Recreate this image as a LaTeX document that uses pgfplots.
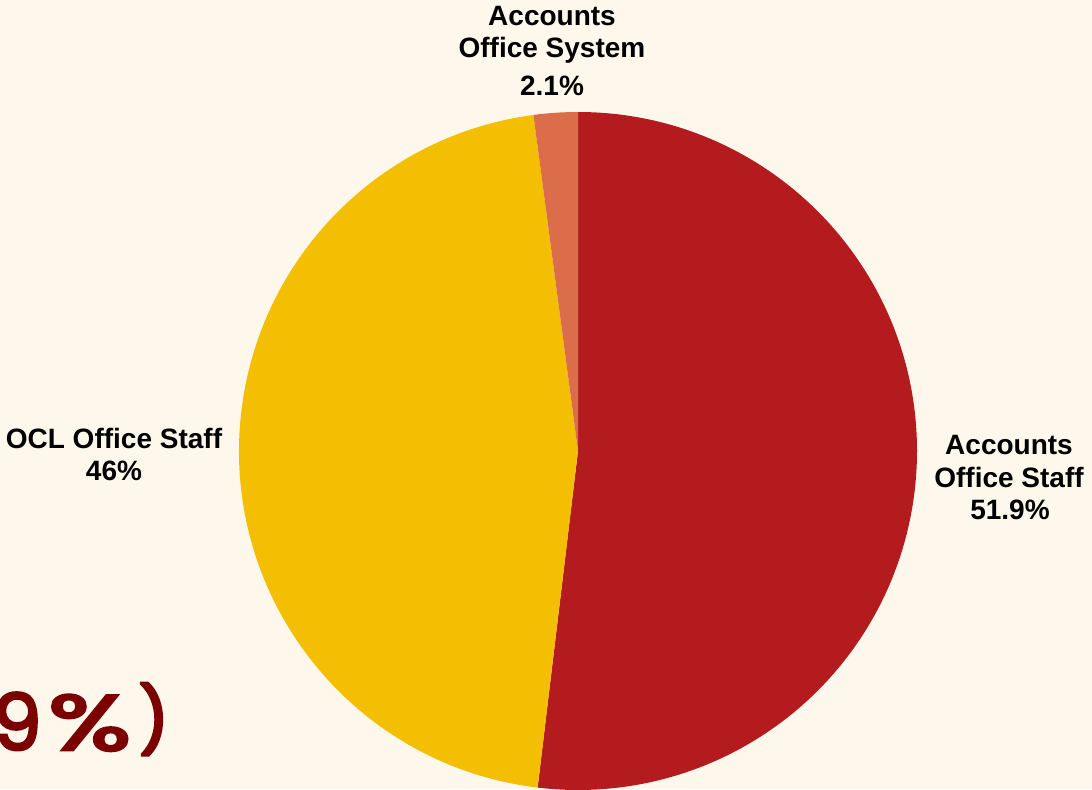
\documentclass[border=0pt]{standalone}
\usepackage{pgfplots}
\pgfplotsset{compat=1.18}
\usepackage{pgfplotstable}
\usepackage{fontspec}
\setmainfont{Liberation Sans}
\newfontfamily\pop{Poppins}[FakeBold=3.5]
\newfontfamily\popb{Poppins}[FakeBold=5]
\definecolor{bg}{HTML}{FEF8EC}
\definecolor{cred}{HTML}{B31B1F}
\definecolor{cyel}{HTML}{F4BF02}
\definecolor{cora}{HTML}{DB6D4A}
\definecolor{dred}{HTML}{7B0000}
\pgfplotstableread[col sep=comma]{
label,value
Accounts Office Staff,51.9
OCL Office Staff,46
Accounts Office System,2.1
}\piedata
\pgfplotstablegetelem{0}{value}\of\piedata \let\va\pgfplotsretval
\pgfplotstablegetelem{1}{value}\of\piedata \let\vb\pgfplotsretval
\pgfplotstablegetelem{2}{value}\of\piedata \let\vc\pgfplotsretval
\pgfmathsetmacro\aA{90-3.6*\va}
\pgfmathsetmacro\aB{\aA-3.6*\vb}
\pgfmathsetmacro\aC{\aB-3.6*\vc}
\begin{document}
\begin{tikzpicture}
\useasboundingbox (0,0) rectangle (546pt,394.5pt);
\clip (0,0) rectangle (546pt,394.5pt);
\fill[bg] (0,0) rectangle (546pt,394.5pt);
\begin{axis}[at={(0,0)},anchor=south west,scale only axis,
  width=546pt,height=394.5pt,xmin=0,xmax=1092,ymin=0,ymax=789,
  hide axis,clip=false]
\fill[cred] (axis cs:578,338) -- ++(90:169.5pt) arc[start angle=90,end angle=\aA,radius=169.5pt] -- cycle;
\fill[cyel] (axis cs:578,338) -- ++(\aA:169.5pt) arc[start angle=\aA,end angle=\aB,radius=169.5pt] -- cycle;
\fill[cora] (axis cs:578,338) -- ++(\aB:169.5pt) arc[start angle=\aB,end angle=\aC,radius=169.5pt] -- cycle;
\tikzset{lab/.style={anchor=base,font=\bfseries\fontsize{14pt}{16pt}\selectfont,inner sep=0pt},
  big/.style={inner sep=0pt,text=dred,font=\pop\fontsize{39pt}{39pt}\selectfont}}
\node[lab] at (axis cs:1009,335) {Accounts};
\node[lab] at (axis cs:1009,302) {Office Staff};
\node[lab] at (axis cs:1010,270) {\va\%};
\node[lab] at (axis cs:114,341) {OCL Office Staff};
\node[lab] at (axis cs:114,309) {\vb\%};
\node[lab] at (axis cs:552,763) {Accounts};
\node[lab] at (axis cs:552,731) {Office System};
\node[lab] at (axis cs:552,693) {\vc\%};
\node[big,anchor=base east] at (axis cs:42,39) {9};
\node[big,anchor=base west] at (axis cs:48,39) {\scalebox{1.4}[1]{\%}};
\node[big,anchor=base west,font=\popb\fontsize{32pt}{32pt}\selectfont] at (axis cs:139,46) {)};
\end{axis}
\end{tikzpicture}
\end{document}
